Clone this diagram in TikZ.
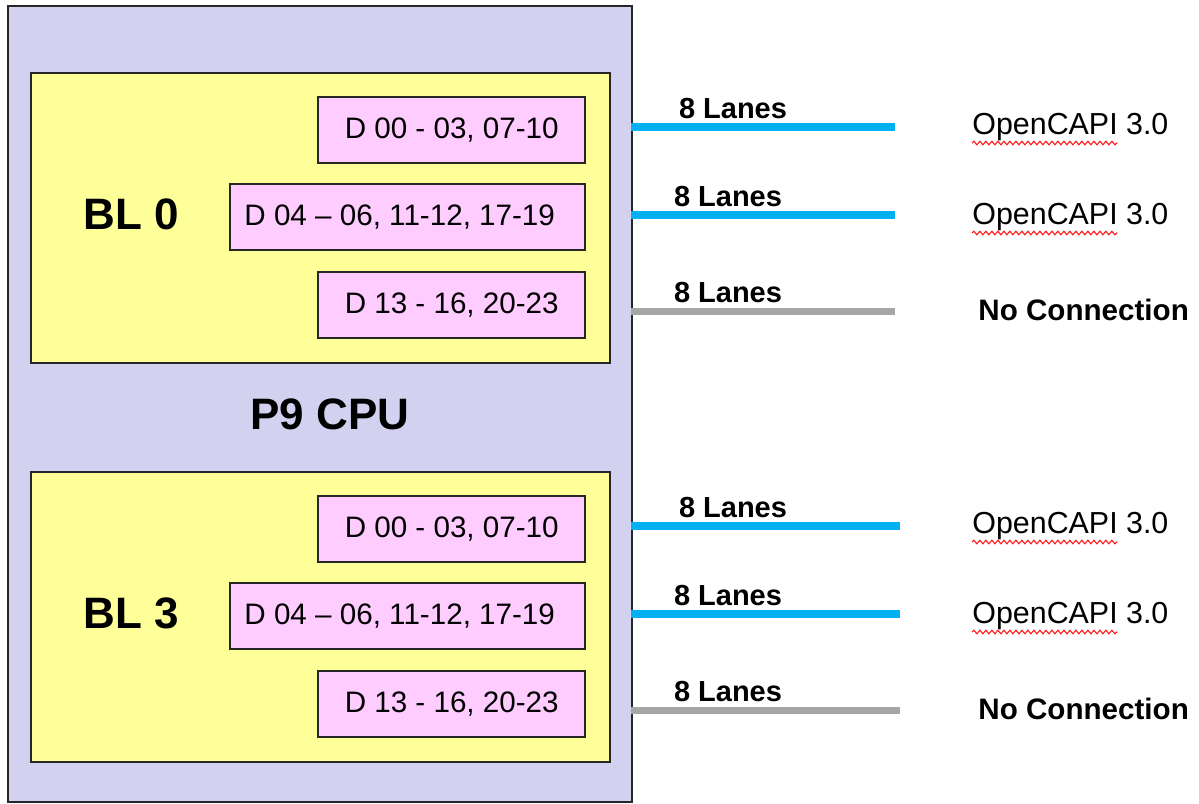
\documentclass[tikz,border=0pt]{standalone}
\usepackage{fontspec}
\setmainfont{Liberation Sans}
\usepackage{tikz}
\usetikzlibrary{positioning, calc, decorations.pathmorphing}
\usepackage{xcolor}
\definecolor{cpubg}{HTML}{D2D2F0}
\definecolor{blbg}{HTML}{FFFF99}
\definecolor{dbg}{HTML}{FFCCFF}
\definecolor{lanecyan}{HTML}{00B0F0}
\definecolor{lanegray}{HTML}{A6A6A6}
\newlength{\capiwd}
\tikzset{
  cpubox/.style={draw=black!85, fill=cpubg, line width=0.8pt, anchor=north west, inner sep=0pt},
  blbox/.style={draw=black!85, fill=blbg, line width=1pt, anchor=north west, inner sep=0pt},
  dbox/.style={draw=black!85, fill=dbg, line width=0.8pt, anchor=north east, inner sep=0pt,
    minimum height=33pt, font=\fontsize{14.8}{17}\selectfont},
  title/.style={inner sep=0pt, text depth=0pt, font=\bfseries\fontsize{22}{26}\selectfont},
  lanes/.style={inner sep=0pt, text depth=0pt, font=\bfseries\fontsize{14.5}{17}\selectfont},
  capi/.style={anchor=west, inner sep=0pt, text depth=0pt, font=\fontsize{15.2}{18}\selectfont},
  nocon/.style={anchor=west, inner sep=0pt, text depth=0pt, font=\bfseries\fontsize{14.8}{17}\selectfont},
  lanelink/.style={line width=4pt, lanecyan},
  deadlink/.style={line width=3.5pt, lanegray},
  squiggle/.style={red!90, line width=0.55pt, decorate,
    decoration={snake, amplitude=0.9pt, segment length=3pt}}
}

\begin{document}
\settowidth{\capiwd}{\fontsize{15.2}{18}\selectfont OpenCAPI}%
\begin{tikzpicture}[x=0.5pt, y=-0.5pt]
    \useasboundingbox (0,0) rectangle (1199,803);

    % CPU
    \node[cpubox, minimum width=312pt, minimum height=398pt] (cpu) at (7,5) {};
    \node[title] (cpuname) at (330,414) {P9 CPU};

    % two bus links, the second one shifted down
    \foreach \b/\s/\e in {0/0/895, 3/399/900} {
    \begin{scope}[shift={(0,\s)}]
        \node[blbox, minimum width=289.5pt, minimum height=145pt] (bl\b) at (30,72) {};
        \node[title] (blname\b) at (131,214) {BL \b};

        \node[dbox, minimum width=133.5pt] (d\b1) at (586,96) {D 00 - 03, 07-10};
        \node[dbox, minimum width=177.5pt] (d\b2) at (586,183) {D 04 -- 06, 11-12, 17-19\kern8pt};
        \node[dbox, minimum width=133.5pt] (d\b3) at (586,271) {D 13 - 16, 20-23};

        % lanes
        \coordinate (src\b1) at (631,127);
        \coordinate (dst\b1) at (\e,127);
        \coordinate (src\b2) at (631,215);
        \coordinate (dst\b2) at (\e,215);
        \coordinate (src\b3) at (631,311);
        \coordinate (dst\b3) at (\e,311);
        \draw[lanelink] (src\b1) -- (dst\b1);
        \draw[lanelink] (src\b2) -- (dst\b2);
        \draw[deadlink] (src\b3) -- (dst\b3);
        \node[lanes] (lanes\b1) at (733,108) {8 Lanes};
        \node[lanes] (lanes\b2) at (728,196) {8 Lanes};
        \node[lanes] (lanes\b3) at (728,292) {8 Lanes};

        % far end
        \node[capi] (capi\b1) at (972,124) {OpenCAPI 3.0};
        \node[capi] (capi\b2) at (972,214) {OpenCAPI 3.0};
        \node[nocon] (nocon\b) at (978,310) {No Connection};
        \draw[squiggle] ([yshift=-4pt]capi\b1.south west) -- ++(\capiwd,0pt);
        \draw[squiggle] ([yshift=-4pt]capi\b2.south west) -- ++(\capiwd,0pt);
    \end{scope}
    }
\end{tikzpicture}
\end{document}
